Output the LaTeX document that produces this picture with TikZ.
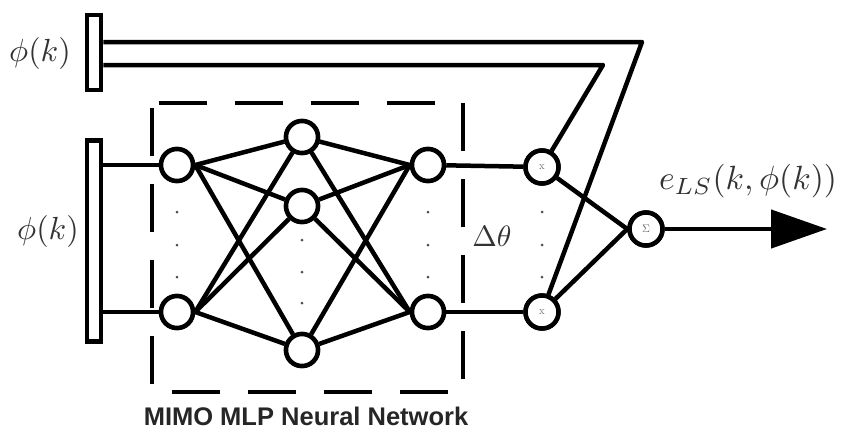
\documentclass[tikz,border=0pt]{standalone}
\usepackage{fontspec}
\newfontfamily\labelsans{Liberation Sans}
\usetikzlibrary{arrows.meta}
\tikzset{
  wire/.style={line width=4.5pt, line join=round},
  neuron/.style={circle, draw, line width=4.5pt, fill=white, minimum size=32pt, inner sep=0pt},
  opnode/.style={circle, draw, line width=4.5pt, fill=white, minimum size=33pt, inner sep=0pt,
                 font=\fontsize{11}{12}\selectfont, text=black!60},
  bus/.style={rectangle, draw, line width=4.5pt, fill=white, minimum width=14pt, inner sep=0pt},
  dotmark/.style={circle, fill=black!70, inner sep=0pt, minimum size=3pt},
  mathlbl/.style={font=\fontsize{10}{12}\selectfont, text=black!80, scale=3.2, inner sep=0pt},
}
\begin{document}
\begin{tikzpicture}[x=1pt, y=-1pt]
\useasboundingbox (0,0) rectangle (841,429);

% input buses
\node[bus, minimum height=75pt] (busA) at (94,52.5) {};
\node[bus, minimum height=201pt] (busB) at (94,241) {};

% network box
\draw[line width=4.5pt, dash pattern=on 48pt off 28pt, dash phase=-5pt] (152,103) rectangle (463,392);

% neurons
\node[neuron] (in1) at (177,165) {};
\node[neuron] (in2) at (177,312) {};
\node[neuron] (h1) at (302,137) {};
\node[neuron] (h2) at (302,206) {};
\node[neuron] (h3) at (302,350) {};
\node[neuron] (o1) at (428,165) {};
\node[neuron] (o2) at (428,312) {};

% multipliers and summer
\node[opnode] (m1) at (542,167) {x};
\node[opnode] (m2) at (542,312) {x};
\node[opnode] (sum) at (646,229) {$\Sigma$};

% routing corners
\coordinate (c1) at (642,42);
\coordinate (c2) at (603,65);
\coordinate (out) at (827,229);

% fully connected layers
\foreach \i in {in1,in2} \foreach \h in {h1,h2,h3} \draw[wire] (\i.east) -- (\h);
\foreach \h in {h1,h2,h3} \foreach \o in {o1,o2} \draw[wire] (\h) -- (\o.west);

% bus to input layer
\draw[wire] (busB.east |- in1) -- (in1);
\draw[wire] (busB.east |- in2) -- (in2);

% outputs to multipliers
\draw[wire] (o1) -- (m1);
\draw[wire] (o2) -- (m2);

% regressor feeds to multipliers
\draw[wire] (busA.east |- c1) -- (c1) -- (m2);
\draw[wire] (busA.east |- c2) -- (c2) -- (m1);

% multipliers to summer
\draw[wire] (m1) -- (sum.west);
\draw[wire] (m2) -- (sum.west);

% output arrow
\draw[wire, -{Triangle[length=56pt, width=38pt]}] (sum) -- (out);

% redraw nodes on top of wires
\foreach \n in {in1,in2,h1,h2,h3,o1,o2} \node[neuron] at (\n) {};
\node[opnode] at (m1) {x};
\node[opnode] at (m2) {x};
\node[opnode] at (sum) {$\Sigma$};

% ellipsis dots
\foreach \y in {212,245,277} {
  \node[dotmark] at (177,\y) {};
  \node[dotmark] at (428,\y) {};
  \node[dotmark] at (542,\y) {};
}
\foreach \y in {240,272,303} \node[dotmark] at (302,\y) {};

% labels
\node[mathlbl] (lblA) at (40,53) {$\phi(k)$};
\node[mathlbl] (lblB) at (48,231) {$\phi(k)$};
\node[mathlbl, scale=0.92] (lblD) at (492,236) {$\Delta\theta$};
\node[mathlbl, scale=1.05] (lblE) at (748,181) {$e_{LS}(k,\phi(k))$};
\node[font=\labelsans\bfseries\fontsize{25.5}{30}\selectfont, text=black!85, inner sep=0pt] (lblN) at (306,416) {MIMO MLP Neural Network};
\end{tikzpicture}
\end{document}
